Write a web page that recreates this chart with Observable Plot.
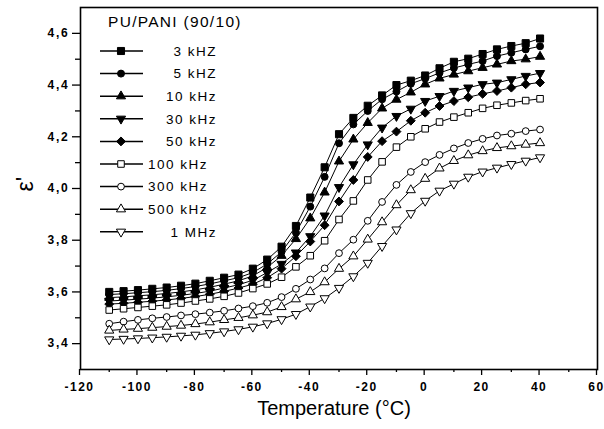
<!DOCTYPE html>
<html><head><meta charset="utf-8">
<script src="https://cdn.jsdelivr.net/npm/d3@7"></script>
<script src="https://cdn.jsdelivr.net/npm/@observablehq/plot@0.6"></script>
<style>
body{margin:0;background:#fff;}
svg [aria-label="x-axis tick label"] text{letter-spacing:1.5px;}
svg [aria-label="y-axis tick label"] text{letter-spacing:1.8px;}
</style>
</head><body><div id="chart"></div>
<script>
// Temperature (°C)
const temperature = [-110,-105,-100,-95,-90,-85,-80,-75,-70,-65,-60,-55,-50,-45,-40,-35,-30,-25,-20,-15,-10,-5,0,5,10,15,20,25,30,35,40];
// ε' per frequency
const eps3k   = [3.600,3.603,3.607,3.612,3.617,3.624,3.632,3.643,3.655,3.667,3.690,3.725,3.775,3.855,3.965,4.082,4.210,4.273,4.320,4.360,4.400,4.417,4.437,4.465,4.490,4.502,4.520,4.538,4.551,4.562,4.580];
const eps5k   = [3.590,3.593,3.597,3.601,3.606,3.613,3.621,3.631,3.643,3.655,3.675,3.708,3.755,3.830,3.930,4.045,4.175,4.248,4.300,4.345,4.375,4.405,4.425,4.447,4.466,4.480,4.493,4.512,4.525,4.538,4.550];
const eps10k  = [3.578,3.581,3.585,3.589,3.594,3.600,3.608,3.618,3.630,3.643,3.662,3.695,3.740,3.805,3.885,3.985,4.105,4.190,4.254,4.310,4.344,4.372,4.403,4.426,4.441,4.454,4.467,4.480,4.493,4.500,4.510];
const eps30k  = [3.565,3.568,3.572,3.576,3.581,3.587,3.594,3.603,3.615,3.628,3.645,3.675,3.708,3.752,3.815,3.895,4.005,4.093,4.170,4.235,4.280,4.308,4.338,4.357,4.377,4.390,4.403,4.409,4.422,4.435,4.446];
const eps50k  = [3.553,3.556,3.560,3.564,3.569,3.575,3.582,3.591,3.602,3.615,3.630,3.655,3.690,3.738,3.795,3.858,3.950,4.033,4.122,4.183,4.220,4.262,4.293,4.319,4.338,4.353,4.366,4.377,4.390,4.403,4.410];
const eps100k = [3.530,3.535,3.540,3.545,3.550,3.557,3.565,3.573,3.583,3.596,3.613,3.631,3.657,3.697,3.740,3.798,3.880,3.952,4.033,4.103,4.160,4.200,4.231,4.257,4.276,4.293,4.310,4.322,4.331,4.340,4.347];
const eps300k = [3.477,3.485,3.492,3.498,3.503,3.509,3.514,3.520,3.527,3.536,3.545,3.558,3.580,3.612,3.648,3.691,3.750,3.802,3.875,3.948,4.014,4.064,4.102,4.130,4.155,4.176,4.192,4.205,4.212,4.222,4.228];
const eps500k = [3.451,3.455,3.458,3.462,3.466,3.470,3.476,3.483,3.492,3.500,3.510,3.522,3.542,3.572,3.600,3.638,3.690,3.738,3.803,3.870,3.936,3.994,4.038,4.078,4.107,4.129,4.145,4.157,4.164,4.170,4.176];
const eps1M   = [3.416,3.418,3.420,3.423,3.426,3.430,3.434,3.440,3.447,3.455,3.465,3.478,3.494,3.514,3.543,3.575,3.615,3.660,3.712,3.777,3.841,3.904,3.952,3.991,4.018,4.045,4.065,4.080,4.094,4.107,4.120];

const seriesNames = ["3 kHZ","5 kHZ","10 kHz","30 kHz","50 kHz","100 kHz","300 kHz","500 kHz","1 MHz"];
const seriesValues = [eps3k, eps5k, eps10k, eps30k, eps50k, eps100k, eps300k, eps500k, eps1M];
const legendTitle = "PU/PANI (90/10)";

const xTicks = [-120,-100,-80,-60,-40,-20,0,20,40,60];
const xTickLabels = ["-120","-100","-80","-60","-40","-20","0","20","40","60"];
const xMinorTicks = [-110,-90,-70,-50,-30,-10,10,30,50];
const yTicks = [3.4,3.6,3.8,4.0,4.2,4.4,4.6];
const yTickLabels = ["3,4","3,6","3,8","4,0","4,2","4,4","4,6"];
const yMinorTicks = [3.5,3.7,3.9,4.1,4.3,4.5];

// styles (not data)
const symbolNames = ["square","circle","triangle","triangle","diamond2","square","circle","triangle","triangle"];
const symbolRotate = [0,0,0,180,0,0,0,0,180];
const symbolR = [4.0,3.5,3.4,3.4,4.0,3.7,3.4,3.4,3.4];
const filled = [true,true,true,true,true,false,false,false,false];

const rows = [];
seriesNames.forEach((s, i) => {
  seriesValues[i].forEach((v, j) => rows.push({T: temperature[j], v, s}));
});

const font = "'Liberation Sans', Arial, sans-serif";

const dots = seriesNames.map((s, i) =>
  Plot.dot(rows.filter(d => d.s === s), {
    x: "T", y: "v", symbol: symbolNames[i], r: symbolR[i], rotate: symbolRotate[i],
    fill: filled[i] ? "black" : "white", stroke: "black", strokeWidth: 1
  })
);

const chart = Plot.plot({
  width: 604, height: 429,
  marginLeft: 80, marginRight: 7, marginTop: 7, marginBottom: 60,
  x: {domain: [-120, 60], label: null},
  y: {domain: [3.3, 4.7], label: null},
  style: {fontFamily: font, color: "black", background: "white"},
  marks: [
    Plot.axisX(xTicks, {tickSize: 6, tickPadding: 7, tickFormat: d => xTickLabels[xTicks.indexOf(d)], fontSize: 12, fontWeight: "bold", strokeWidth: 1.3, label: null, dx: -1}),
    Plot.axisX(xMinorTicks, {tickSize: 3, tickFormat: () => "", strokeWidth: 1.3, label: null}),
    Plot.axisY(yTicks, {tickSize: 8, tickPadding: 3, tickFormat: d => yTickLabels[yTicks.indexOf(d)], fontSize: 12, fontWeight: "bold", strokeWidth: 1.3, label: null}),
    Plot.axisY(yMinorTicks, {tickSize: 5, tickFormat: () => "", strokeWidth: 1.3, label: null}),
    Plot.frame({stroke: "black", strokeWidth: 1.6}),
    Plot.line(rows, {x: "T", y: "v", z: "s", stroke: "black", strokeWidth: 1}),
    ...dots,
    Plot.text(["ε'"], {text: d => d, frameAnchor: "left", dx: -55, dy: 3, rotate: -90, fontSize: 23}),
    Plot.text(["Temperature (°C)"], {text: d => d, frameAnchor: "bottom", dx: -5, dy: 45, fontSize: 20})
  ]
});

// legend inside the plot area
const symMap = {square: d3.symbolSquare, circle: d3.symbolCircle, triangle: d3.symbolTriangle, diamond2: d3.symbolDiamond2};
const lg = d3.select(chart).append("g").attr("font-family", font).attr("font-size", 13.5).attr("fill", "black").attr("text-anchor", "start");
lg.append("text").attr("x", 108).attr("y", 22).attr("dy", "0.35em").attr("text-anchor", "start").attr("font-size", 15.5).attr("letter-spacing", "1.3px").text(legendTitle);
seriesNames.forEach((name, i) => {
  const y = 51 + i * 22.6;
  lg.append("line").attr("x1", 100).attr("x2", 143).attr("y1", y).attr("y2", y).attr("stroke", "black").attr("stroke-width", 1.5);
  const r = symbolR[i];
  lg.append("path")
    .attr("d", d3.symbol(symMap[symbolNames[i]], Math.PI * r * r)())
    .attr("transform", `translate(121,${y}) rotate(${symbolRotate[i]})`)
    .attr("fill", filled[i] ? "black" : "white").attr("stroke", "black").attr("stroke-width", 1);
  const t = lg.append("text").attr("y", y).attr("dy", "0.35em").attr("letter-spacing", "1.5px").text(name);
  if (name.length >= 7) t.attr("x", 148).attr("text-anchor", "start");
  else t.attr("x", 217).attr("text-anchor", "end");
});

document.getElementById("chart").appendChild(chart);
</script>
</body></html>
